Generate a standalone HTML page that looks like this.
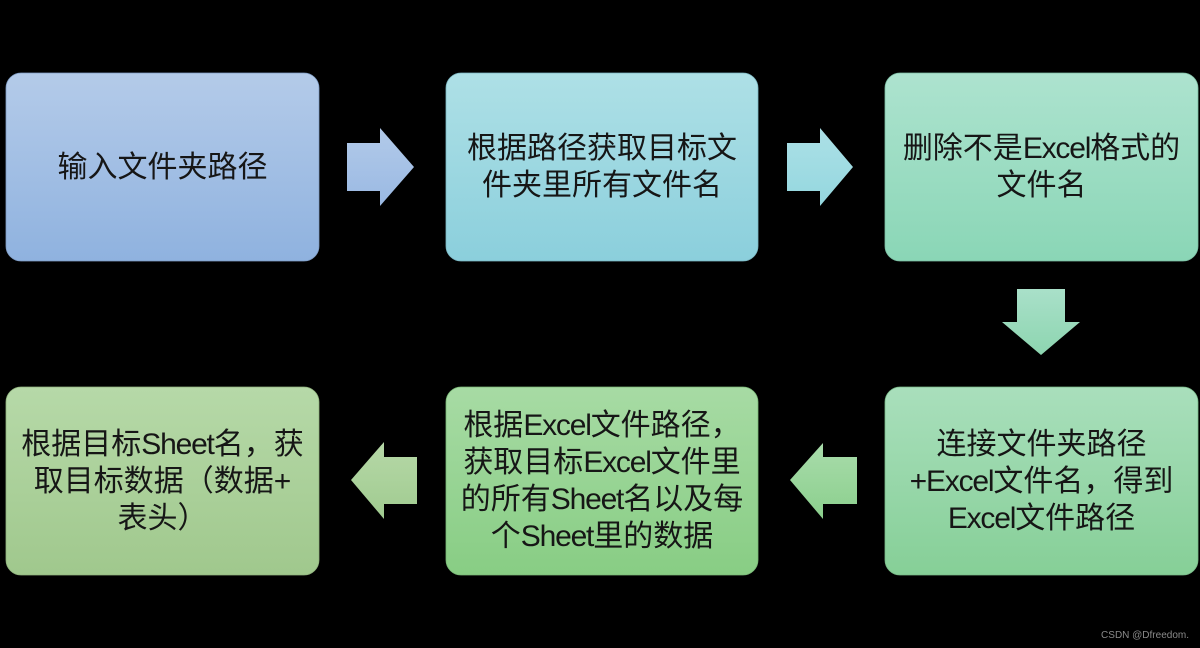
<!DOCTYPE html>
<html>
<head>
<meta charset="utf-8">
<style>
  html,body{margin:0;padding:0;background:#000;}
  #wrap{position:relative;width:1200px;height:648px;background:#000;overflow:hidden;}
  svg{position:absolute;left:0;top:0;}
  .t{position:absolute;display:flex;align-items:center;justify-content:center;
     font-family:"Liberation Sans","Noto Sans CJK SC",sans-serif;font-size:30px;line-height:37px;color:#161616;white-space:nowrap;}
  .t > div{text-align:center;}
  .l{letter-spacing:-1.2px;}
  .wm{position:absolute;right:11px;top:630px;font-family:"Liberation Sans",sans-serif;font-size:10px;color:#8a8a8a;}
</style>
</head>
<body>
<div id="wrap">
<svg width="1200" height="648" viewBox="0 0 1200 648">
  <defs>
    <linearGradient id="g1" x1="0" y1="0" x2="0" y2="1"><stop offset="0" stop-color="#b4cbe9"/><stop offset="1" stop-color="#8fb2df"/></linearGradient>
    <linearGradient id="g2" x1="0" y1="0" x2="0" y2="1"><stop offset="0" stop-color="#aee0e6"/><stop offset="1" stop-color="#8bcfdc"/></linearGradient>
    <linearGradient id="g3" x1="0" y1="0" x2="0" y2="1"><stop offset="0" stop-color="#ade3cf"/><stop offset="1" stop-color="#8ad6b6"/></linearGradient>
    <linearGradient id="g6" x1="0" y1="0" x2="0" y2="1"><stop offset="0" stop-color="#a9dfbc"/><stop offset="1" stop-color="#86cf97"/></linearGradient>
    <linearGradient id="g5" x1="0" y1="0" x2="0" y2="1"><stop offset="0" stop-color="#a7dba4"/><stop offset="1" stop-color="#88cd84"/></linearGradient>
    <linearGradient id="g4" x1="0" y1="0" x2="0" y2="1"><stop offset="0" stop-color="#b6d9a8"/><stop offset="1" stop-color="#a0c88d"/></linearGradient>
    <linearGradient id="a1" x1="0" y1="0" x2="0" y2="1"><stop offset="0" stop-color="#b2cae9"/><stop offset="1" stop-color="#9ab9e3"/></linearGradient>
    <linearGradient id="a2" x1="0" y1="0" x2="0" y2="1"><stop offset="0" stop-color="#ace0e6"/><stop offset="1" stop-color="#94d7df"/></linearGradient>
    <linearGradient id="a3" x1="0" y1="0" x2="0" y2="1"><stop offset="0" stop-color="#a9e0c9"/><stop offset="1" stop-color="#8dd5b0"/></linearGradient>
    <linearGradient id="a4" x1="0" y1="0" x2="0" y2="1"><stop offset="0" stop-color="#a9dcab"/><stop offset="1" stop-color="#8bcf8d"/></linearGradient>
    <linearGradient id="a5" x1="0" y1="0" x2="0" y2="1"><stop offset="0" stop-color="#b6d8a7"/><stop offset="1" stop-color="#a0cb90"/></linearGradient>
  </defs>
  <rect x="6" y="73" width="313" height="188" rx="15" fill="url(#g1)" stroke="#7f9cc4" stroke-width="0.8"/>
  <rect x="446" y="73" width="312" height="188" rx="15" fill="url(#g2)" stroke="#7bb7c2" stroke-width="0.8"/>
  <rect x="885" y="73" width="313" height="188" rx="15" fill="url(#g3)" stroke="#7bbda2" stroke-width="0.8"/>
  <rect x="6" y="387" width="313" height="188" rx="15" fill="url(#g4)" stroke="#90b27d" stroke-width="0.8"/>
  <rect x="446" y="387" width="312" height="188" rx="15" fill="url(#g5)" stroke="#79b776" stroke-width="0.8"/>
  <rect x="885" y="387" width="313" height="188" rx="15" fill="url(#g6)" stroke="#78b887" stroke-width="0.8"/>
  <polygon points="347,143 380,143 380,128 414,167 380,206 380,191 347,191" fill="url(#a1)"/>
  <polygon points="787,143 820,143 820,128 853,167 820,206 820,191 787,191" fill="url(#a2)"/>
  <polygon points="1017,289 1065,289 1065,322 1080,322 1041,355 1002,322 1017,322" fill="url(#a3)"/>
  <polygon points="790,480 823,443 823,457 857,457 857,504 823,504 823,519" fill="url(#a4)"/>
  <polygon points="351,480 384,442 384,457 417,457 417,504 384,504 384,519" fill="url(#a5)"/>
</svg>
<div class="t" style="left:6px;top:73px;width:313px;height:188px;"><div>输入文件夹路径</div></div>
<div class="t" style="left:446px;top:73px;width:312px;height:188px;"><div>根据路径获取目标文<br>件夹里所有文件名</div></div>
<div class="t" style="left:885px;top:73px;width:313px;height:188px;"><div>删除不是<span class="l">Excel</span>格式的<br>文件名</div></div>
<div class="t" style="left:885px;top:387px;width:313px;height:188px;"><div>连接文件夹路径<br><span class="l">+Excel</span>文件名，得到<br><span class="l">Excel</span>文件路径</div></div>
<div class="t" style="left:446px;top:387px;width:312px;height:188px;"><div>根据<span class="l">Excel</span>文件路径，<br>获取目标<span class="l">Excel</span>文件里<br>的所有<span class="l">Sheet</span>名以及每<br>个<span class="l">Sheet</span>里的数据</div></div>
<div class="t" style="left:6px;top:387px;width:313px;height:188px;"><div>根据目标<span class="l">Sheet</span>名，获<br>取目标数据（数据+<br>表头）</div></div>
<div class="wm">CSDN @Dfreedom.</div>
</div>
</body>
</html>
